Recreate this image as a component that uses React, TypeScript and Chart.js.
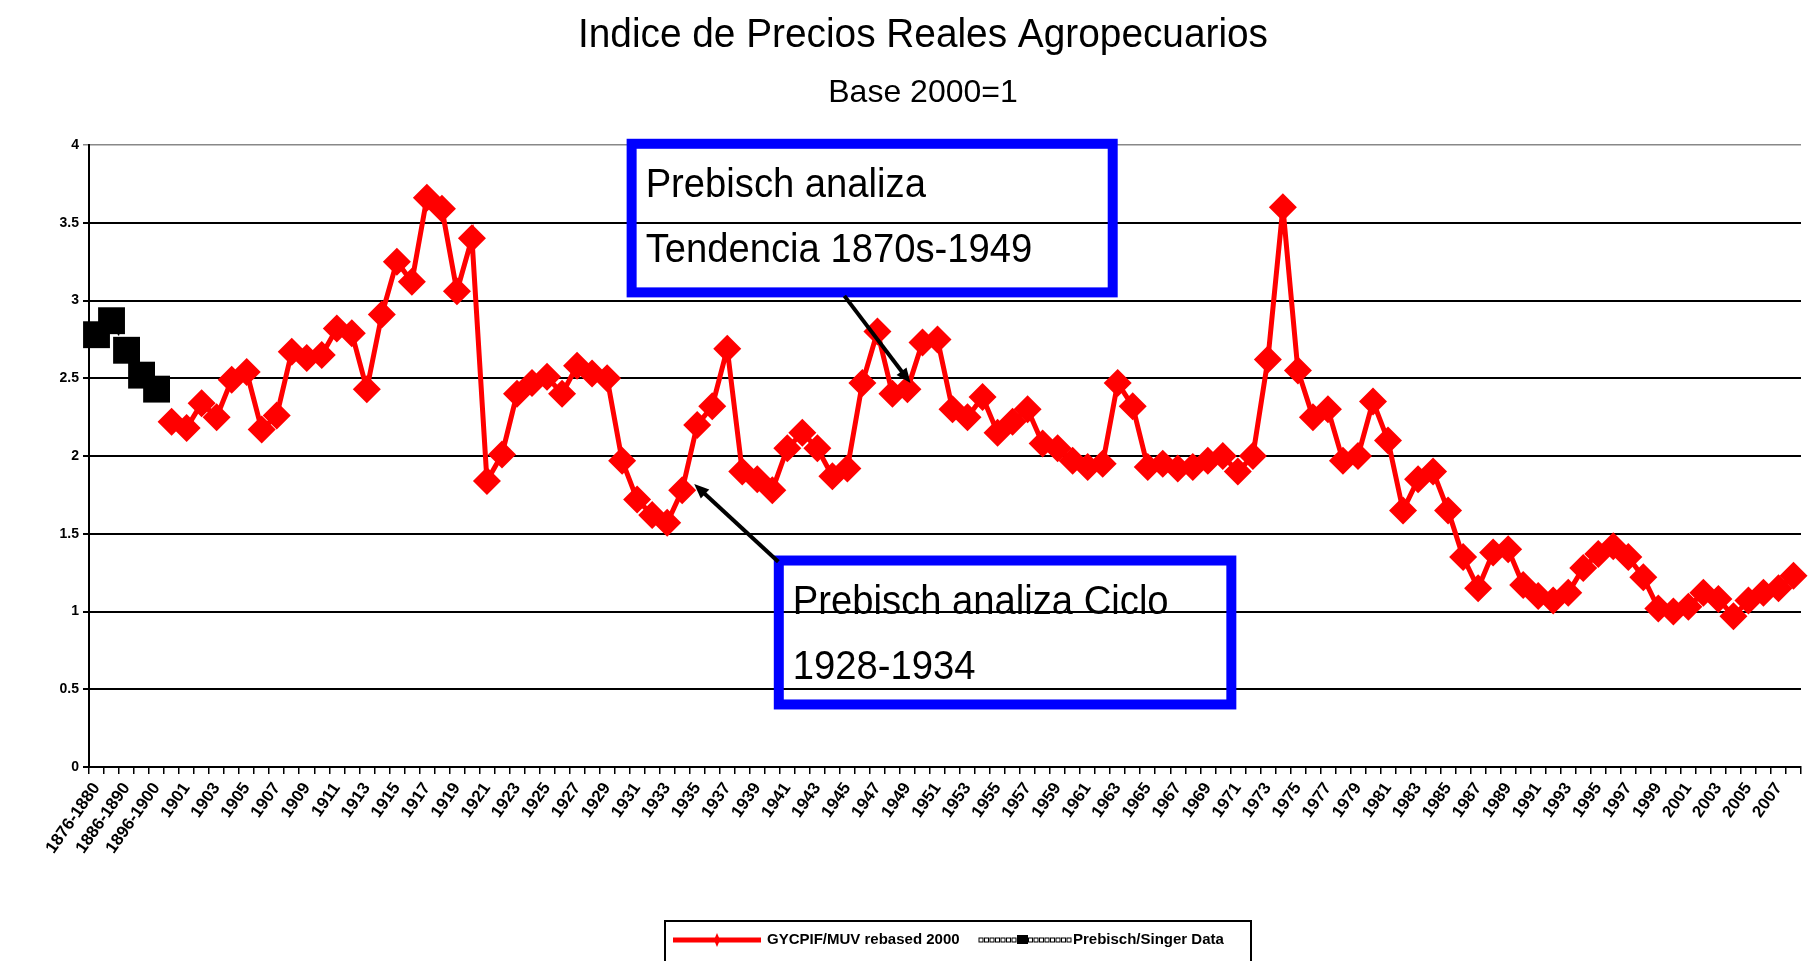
import React, { useEffect, useRef } from "react";
import { Chart, registerables } from "chart.js";

Chart.register(...registerables);

// ---------- DATA ----------
const periodLabels = ["1876-1880", "1881-1885", "1886-1890", "1891-1895", "1896-1900"];
const prebischSingerValues = [2.78, 2.87, 2.68, 2.52, 2.43];

const firstYear = 1900;
const lastYear = 2008;
const yearLabels: string[] = [];
for (let y = firstYear; y <= lastYear; y++) yearLabels.push(String(y));

// GYCPIF/MUV rebased 2000, 1900..2008
const gycpifValues = [
  2.22, 2.18, 2.34, 2.25, 2.49, 2.54, 2.17, 2.26, 2.67, 2.63, // 1900-1909
  2.65, 2.82, 2.79, 2.43, 2.91, 3.25, 3.12, 3.66, 3.59, 3.06, // 1910-1919
  3.40, 1.84, 2.01, 2.40, 2.47, 2.51, 2.40, 2.58, 2.53, 2.50, // 1920-1929
  1.97, 1.72, 1.62, 1.57, 1.78, 2.20, 2.32, 2.69, 1.90, 1.85, // 1930-1939
  1.78, 2.05, 2.15, 2.05, 1.87, 1.92, 2.47, 2.80, 2.40, 2.43, // 1940-1949
  2.73, 2.75, 2.30, 2.25, 2.38, 2.15, 2.22, 2.30, 2.08, 2.05, // 1950-1959
  1.97, 1.93, 1.95, 2.47, 2.32, 1.93, 1.95, 1.92, 1.93, 1.97, // 1960-1969
  2.00, 1.90, 2.00, 2.62, 3.60, 2.55, 2.25, 2.30, 1.97, 2.00, // 1970-1979
  2.35, 2.10, 1.65, 1.85, 1.90, 1.65, 1.35, 1.15, 1.38, 1.40, // 1980-1989
  1.17, 1.10, 1.07, 1.12, 1.28, 1.37, 1.42, 1.35, 1.22, 1.02, // 1990-1999
  1.00, 1.03, 1.12, 1.08, 0.97, 1.07, 1.12, 1.15, 1.23,       // 2000-2008
];

const yTicks = [0, 0.5, 1, 1.5, 2, 2.5, 3, 3.5, 4];

const titleText = "Indice de Precios Reales Agropecuarios";
const subtitleText = "Base 2000=1";
const seriesNames = ["GYCPIF/MUV rebased 2000", "Prebisch/Singer Data"];

// annotation boxes in data coordinates (category index / value)
const noteBoxes = [
  { lines: ["Prebisch analiza", "Tendencia 1870s-1949"], x0: 35.3, x1: 68.0, y0: 4.04, y1: 3.02 },
  { lines: ["Prebisch analiza Ciclo", "1928-1934"], x0: 45.1, x1: 75.9, y0: 1.36, y1: 0.37 },
];
const noteArrows = [
  { fromX: 49.8, fromY: 3.03, toX: 54.2, toY: 2.47 },
  { fromX: 45.4, fromY: 1.32, toX: 39.8, toY: 1.82 },
];

// ---------- STYLE ----------
const NARROW = "'Liberation Sans Narrow', 'Arial Narrow', 'Liberation Sans', Arial, sans-serif";
const SANS = "'Liberation Sans', Arial, sans-serif";

const allLabels = [...periodLabels, ...yearLabels];
const redData: (number | null)[] = [...periodLabels.map(() => null), ...gycpifValues];
const blackData: (number | null)[] = [...prebischSingerValues, ...yearLabels.map(() => null)];

const decorPlugin = {
  id: "decor",
  afterDraw(chart: any) {
    const ctx: CanvasRenderingContext2D = chart.ctx;
    const xs = chart.scales.x;
    const ys = chart.scales.y;
    ctx.save();

    // title & subtitle
    ctx.fillStyle = "#000";
    ctx.textAlign = "center";
    ctx.textBaseline = "middle";
    ctx.font = `40px ${NARROW}`;
    ctx.fillText(titleText, 923, 36, 690);
    ctx.font = `32px ${NARROW}`;
    ctx.fillText(subtitleText, 923, 93, 195);

    // annotation boxes
    for (const b of noteBoxes) {
      const l = xs.getPixelForValue(b.x0);
      const r = xs.getPixelForValue(b.x1);
      const t = ys.getPixelForValue(b.y0);
      const bt = ys.getPixelForValue(b.y1);
      ctx.strokeStyle = "#0000ff";
      ctx.lineWidth = 10;
      ctx.strokeRect(l + 5, t + 5, r - l - 10, bt - t - 10);
      ctx.fillStyle = "#000";
      ctx.textAlign = "left";
      ctx.textBaseline = "middle";
      ctx.font = `40px ${NARROW}`;
      b.lines.forEach((line, i) => {
        const w = ctx.measureText(line).width * 0.955;
        ctx.fillText(line, l + 19, t + 47 + i * 65, w);
      });
    }

    // arrows
    for (const a of noteArrows) {
      const x1 = xs.getPixelForValue(a.fromX);
      const y1 = ys.getPixelForValue(a.fromY);
      const x2 = xs.getPixelForValue(a.toX);
      const y2 = ys.getPixelForValue(a.toY);
      const ang = Math.atan2(y2 - y1, x2 - x1);
      const head = 16;
      ctx.strokeStyle = "#000";
      ctx.lineWidth = 4;
      ctx.beginPath();
      ctx.moveTo(x1, y1);
      ctx.lineTo(x2 - Math.cos(ang) * head * 0.8, y2 - Math.sin(ang) * head * 0.8);
      ctx.stroke();
      ctx.fillStyle = "#000";
      ctx.beginPath();
      ctx.moveTo(x2, y2);
      ctx.lineTo(x2 - head * Math.cos(ang - 0.4), y2 - head * Math.sin(ang - 0.4));
      ctx.lineTo(x2 - head * Math.cos(ang + 0.4), y2 - head * Math.sin(ang + 0.4));
      ctx.closePath();
      ctx.fill();
    }

    // legend
    ctx.strokeStyle = "#000";
    ctx.lineWidth = 2;
    ctx.strokeRect(665, 921, 586, 60);
    const ly = 940;
    ctx.strokeStyle = "#ff0000";
    ctx.lineWidth = 5;
    ctx.beginPath();
    ctx.moveTo(673, ly);
    ctx.lineTo(761, ly);
    ctx.stroke();
    ctx.fillStyle = "#ff0000";
    ctx.beginPath();
    ctx.moveTo(717, ly - 7);
    ctx.lineTo(720, ly);
    ctx.lineTo(717, ly + 7);
    ctx.lineTo(714, ly);
    ctx.closePath();
    ctx.fill();
    ctx.fillStyle = "#000";
    ctx.textAlign = "left";
    ctx.font = `bold 15px ${NARROW}`;
    ctx.fillText(seriesNames[0], 767, ly, 200);
    // black dotted sample
    ctx.strokeStyle = "#000";
    ctx.lineWidth = 1;
    for (let x = 979; x < 1068; x += 5.5) {
      ctx.strokeRect(x, ly - 2, 4, 4);
    }
    ctx.fillRect(1017, ly - 5, 11, 9);
    ctx.fillText(seriesNames[1], 1073, ly, 168);

    ctx.restore();
  },
};

export default function App() {
  const ref = useRef<HTMLCanvasElement | null>(null);

  useEffect(() => {
    if (!ref.current) return;
    const chart = new Chart(ref.current, {
      type: "line",
      data: {
        labels: allLabels,
        datasets: [
          {
            label: seriesNames[0],
            data: redData,
            borderColor: "#ff0000",
            backgroundColor: "#ff0000",
            borderWidth: 5,
            pointStyle: "rectRot",
            pointRadius: 14,
            pointBorderWidth: 0,
            pointBackgroundColor: "#ff0000",
            tension: 0,
            spanGaps: false,
          },
          {
            label: seriesNames[1],
            data: blackData,
            borderColor: "#000",
            backgroundColor: "#000",
            borderWidth: 1.5,
            borderDash: [2, 3],
            pointStyle: "rect",
            pointRadius: 19,
            pointBorderWidth: 0,
            pointBackgroundColor: "#000",
            tension: 0,
          },
        ],
      },
      options: {
        responsive: false,
        animation: false,
        layout: { padding: { top: 145, right: 14, bottom: 54, left: 0 } },
        plugins: {
          legend: { display: false },
          title: { display: false },
          tooltip: { enabled: false },
        },
        scales: {
          x: {
            type: "category",
            offset: true,
            afterFit: (s: any) => {
              s.height = 140;
            },
            grid: {
              display: true,
              offset: true,
              drawOnChartArea: false,
              drawTicks: true,
              tickLength: 7,
              color: "#000",
              lineWidth: 1.5,
            },
            border: { display: true, color: "#000", width: 2 },
            ticks: {
              autoSkip: false,
              minRotation: 55,
              maxRotation: 55,
              color: "#000",
              padding: 5,
              font: { family: SANS, size: 17, weight: "bold" },
              callback: (_v: any, i: number) => (i % 2 === 0 ? allLabels[i] : ""),
            },
          },
          y: {
            min: 0,
            max: 4,
            afterFit: (s: any) => {
              s.width = 89;
            },
            afterBuildTicks: (s: any) => {
              s.ticks = yTicks.map((v) => ({ value: v }));
            },
            grid: {
              color: (c: any) => (c.tick && c.tick.value === 4 ? "#888" : "#000"),
              lineWidth: (c: any) => (c.tick && c.tick.value === 4 ? 1.5 : 2),
              tickLength: 6,
              drawTicks: true,
            },
            border: { display: true, color: "#000", width: 2 },
            ticks: {
              color: "#000",
              padding: 4,
              font: { family: SANS, size: 14, weight: "bold" },
              callback: (v: any) => String(v),
            },
          },
        },
      },
      plugins: [decorPlugin],
    });
    return () => chart.destroy();
  }, []);

  return (
    <div style={{ position: "absolute", left: 0, top: 0, width: 1820, height: 961, background: "#fff" }}>
      <canvas ref={ref} width={1820} height={961} style={{ display: "block" }} />
    </div>
  );
}
